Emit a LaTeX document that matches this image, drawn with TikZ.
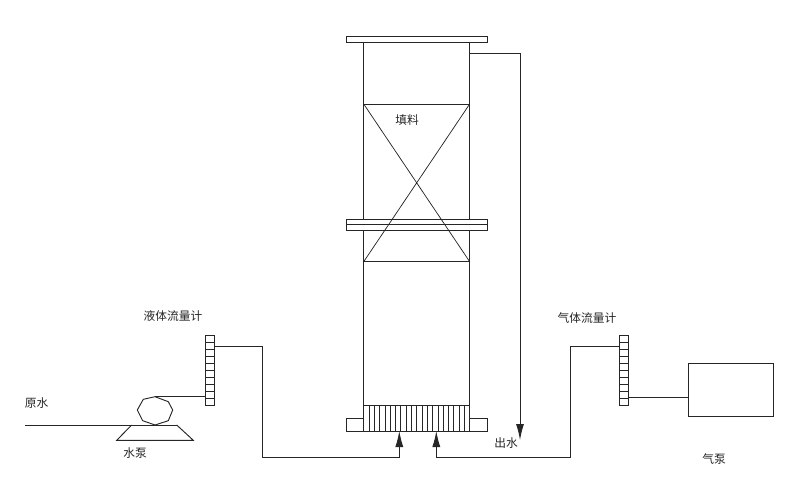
\documentclass[tikz,border=0pt]{standalone}
\usepackage{fontspec}
\newfontfamily\cjk{Noto Sans CJK SC}
\usetikzlibrary{arrows.meta}
\tikzset{
    pipe/.style={draw=black!85, line width=0.7pt},
    flange/.style={draw=black!85, line width=0.7pt, inner sep=0pt, minimum width=105.75pt},
    foottab/.style={draw=black!85, line width=0.7pt, inner sep=0pt, minimum width=13.25pt, minimum height=9.75pt},
    meter/.style={draw=black!85, line width=0.7pt, inner sep=0pt, minimum width=7pt, minimum height=52.2pt},
    lbl/.style={font=\cjk\fontsize{8.8}{10}\selectfont, text=black!85, inner sep=0pt},
    flow/.style={-{Latex[length=12pt,width=6pt]}}
}
\begin{document}
\begin{tikzpicture}[x=0.75pt,y=-0.75pt]
    \useasboundingbox (0,0) rectangle (800,488);

    % column flanges, top to bottom
    \node[flange, minimum height=4.5pt] (topflange) at (416.5,39.7) {};
    \node[flange, minimum height=4.2pt] (midupper) at (416.5,221.9) {};
    \node[flange, minimum height=4.2pt] (midlower) at (416.5,227.5) {};
    \node[foottab] (tableft) at (354.9,424.5) {};
    \node[foottab] (tabright) at (478.4,424.5) {};

    % packing section with its cross
    \coordinate (packnw) at (363.7,104);
    \coordinate (packne) at (469.7,104);
    \coordinate (packsw) at (363.7,261.7);
    \coordinate (packse) at (469.7,261.7);
    \draw[pipe] (packnw) -- (packne) (packsw) -- (packse);
    \draw[pipe, line width=0.55pt] (packnw) -- (packse) (packne) -- (packsw);
    \node[lbl] (packlabel) at (407,120) {填料};

    % distributor at the column foot, 20 cells
    \coordinate (gridnw) at (363.7,405.7);
    \coordinate (gridne) at (469.7,405.7);
    \draw[pipe] (gridnw) -- (gridne);
    \draw[pipe] (tableft.south east) -- (tabright.south west);
    \foreach \i in {0,...,20} {
        \pgfmathsetmacro{\x}{363.7+\i*5.3}
        \draw[pipe, line width=0.55pt] (\x,405.7) -- (\x,431);
    }

    % column walls, broken at the middle flange
    \draw[pipe] (topflange.south -| gridnw) -- (midupper.north -| gridnw);
    \draw[pipe] (topflange.south -| gridne) -- (midupper.north -| gridne);
    \draw[pipe] (midlower.south -| gridnw) -- (gridnw);
    \draw[pipe] (midlower.south -| gridne) -- (gridne);

    % treated water out
    \coordinate (outstart) at (469.7,53.7);
    \coordinate (outend) at (520,440);
    \draw[pipe, flow] (outstart) -| (outend);
    \node[lbl] (outlabel) at (506,443) {出水};

    % raw water and pump
    \coordinate (rawstart) at (25,425);
    \coordinate (rawend) at (176.7,425);
    \draw[pipe] (rawstart) -- (rawend);
    \node[lbl] (rawlabel) at (36.7,403) {原水};
    \draw[pipe] (131.7,425) -- (116.7,440.3) -- (193.3,440.3) -- (176.7,425);
    \draw[pipe] (155,396.7) -- (143.3,399.3) -- (137.3,410) -- (142.7,420.7)
        -- (155,425) -- (168.3,420.7) -- (172.7,410) -- (168.3,401.7) -- cycle;
    \coordinate (pumptop) at (155,396.7);
    \node[lbl] (pumplabel) at (135,453) {水泵};

    % liquid flow meter
    \node[meter] (liqmeter) at (209.7,370.5) {};
    \foreach \i in {1,...,9} {
        \pgfmathsetmacro{\y}{335.7+\i*6.96}
        \draw[pipe] (205,\y) -- (214.3,\y);
    }
    \node[lbl] (liqlabel) at (173,316) {液体流量计};
    \coordinate (liqout) at (214.3,346.7);
    \coordinate (liqin) at (205,396.2);
    \coordinate (liqjoint) at (262.7,457.3);
    \coordinate (liqend) at (399.3,431);
    \draw[pipe] (pumptop) -- (pumptop -| liqin);
    \draw[pipe, flow] (liqout) -| (liqjoint) -| (liqend);

    % gas flow meter and gas pump
    \node[meter] (gasmeter) at (623.7,370.5) {};
    \foreach \i in {1,...,9} {
        \pgfmathsetmacro{\y}{335.7+\i*6.96}
        \draw[pipe] (619,\y) -- (628.3,\y);
    }
    \node[lbl] (gaslabel) at (587,318) {气体流量计};
    \node[draw=black!85, line width=0.7pt, inner sep=0pt, minimum width=64pt, minimum height=40pt] (gaspump) at (731,390) {};
    \node[lbl] (gaspumplabel) at (714,459) {气泵};
    \coordinate (gasin) at (619,346.7);
    \coordinate (gasjoint) at (570.7,457.3);
    \coordinate (gasend) at (436.3,431);
    \coordinate (gasout) at (628.3,397);
    \draw[pipe] (gasout) -- (gasout -| gaspump.west);
    \draw[pipe, flow] (gasin) -| (gasjoint) -| (gasend);
\end{tikzpicture}
\end{document}
